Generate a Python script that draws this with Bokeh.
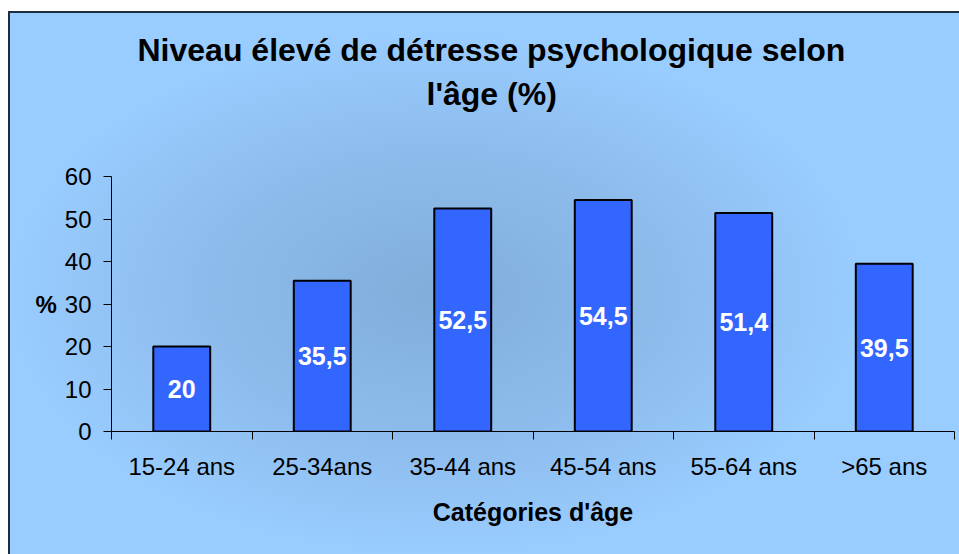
from bokeh.plotting import figure
from bokeh.models import ColumnDataSource, Range1d, FixedTicker, Title, LinearAxis
from bokeh.core.properties import value
from bokeh.embed import file_html
from bokeh.resources import INLINE

# ---- data ----
categories = ["15-24 ans", "25-34ans", "35-44 ans", "45-54 ans", "55-64 ans", ">65 ans"]
values = [20, 35.5, 52.5, 54.5, 51.4, 39.5]
value_labels = ["20", "35,5", "52,5", "54,5", "51,4", "39,5"]
y_ticks = [0, 10, 20, 30, 40, 50, 60]
title_lines = ["Niveau élevé de détresse psychologique selon", "l'âge (%)"]
x_title = "Catégories d'âge"
y_title = "%"

FONT = "Liberation Sans"

xpos = [i + 0.5 for i in range(len(categories))]
boundaries = list(range(len(categories) + 1))
source = ColumnDataSource(dict(x=xpos, top=values,
                               mid=[v / 2 for v in values], lab=value_labels))

p = figure(width=951, height=543,
           x_range=Range1d(0, len(categories)), y_range=Range1d(y_ticks[0], y_ticks[-1]),
           output_backend="svg", toolbar_location=None,
           min_border_left=103, min_border_right=5,
           min_border_top=165, min_border_bottom=123)
p.title = None

p.background_fill_alpha = 0
p.border_fill_alpha = 0
p.outline_line_color = None
p.styles = {
    "margin-left": "8px",
    "margin-top": "11px",
    "background": "radial-gradient(ellipse closest-side at 45% 52%, #80ADDA 0%, #8DBCEC 55%, #99CCFF 100%)",
    "box-shadow": "inset 2px 2px 0 #1F2D3D",
}
p.xgrid.visible = False
p.ygrid.visible = False

p.vbar(x="x", top="top", bottom=0, width=0.405, source=source,
       fill_color="#3366FF", line_color="black", line_width=2)
p.text(x="x", y="mid", text="lab", source=source, text_color="white",
       text_font=value(FONT), text_font_style="bold", text_font_size="25px",
       text_align="center", text_baseline="middle")

# y axis
ya = p.yaxis[0]
ya.ticker = FixedTicker(ticks=y_ticks, minor_ticks=[])
ya.major_tick_out = 8
ya.major_tick_in = 0
ya.minor_tick_out = 0
ya.minor_tick_in = 0
ya.major_label_standoff = 12
ya.major_label_text_font = FONT
ya.major_label_text_font_size = "24px"
ya.major_label_text_color = "black"
ya.axis_line_color = "black"
ya.major_tick_line_color = "black"
ya.axis_label = y_title
ya.axis_label_orientation = "horizontal"
ya.axis_label_standoff = 5
ya.axis_label_text_font = FONT
ya.axis_label_text_font_style = "bold"
ya.axis_label_text_font_size = "24px"
ya.axis_label_text_color = "black"

# x axis
xa = p.xaxis[0]
xa.ticker = FixedTicker(ticks=xpos, minor_ticks=boundaries)
xa.major_label_overrides = {x: c for x, c in zip(xpos, categories)}
xa.major_tick_out = 0
xa.major_tick_in = 0
xa.minor_tick_out = 8
xa.minor_tick_in = 0
xa.minor_tick_line_color = "black"
xa.major_label_standoff = 13
xa.major_label_text_font = FONT
xa.major_label_text_font_size = "24px"
xa.major_label_text_color = "black"
xa.axis_line_color = "black"
xa.axis_label = x_title
xa.axis_label_text_font = FONT
xa.axis_label_text_font_style = "bold"
xa.axis_label_text_font_size = "25px"
xa.axis_label_text_color = "black"
xa.axis_label_standoff = 15

# invisible spacer between the frame and the title block (one transparent tick)
spacer = LinearAxis(ticker=FixedTicker(ticks=[0], minor_ticks=[]),
                    axis_line_color=None,
                    major_tick_line_color="#99CCFF", major_tick_line_alpha=0.01,
                    minor_tick_line_color=None,
                    major_label_overrides={0: ""}, major_label_standoff=0,
                    major_label_text_font_size="1px",
                    major_tick_out=63, major_tick_in=0, minor_tick_out=0, minor_tick_in=0)
p.add_layout(spacer, "above")

# title: two lines, line 2 is closest to the frame
for txt, off, so in [(title_lines[1], 315, 4), (title_lines[0], 26, 8)]:
    p.add_layout(Title(text=txt, align="left", offset=off, standoff=so,
                       text_font=FONT, text_font_style="bold", text_font_size="32px",
                       text_color="black"), "above")

open("out.html", "w").write(file_html(p, INLINE))
